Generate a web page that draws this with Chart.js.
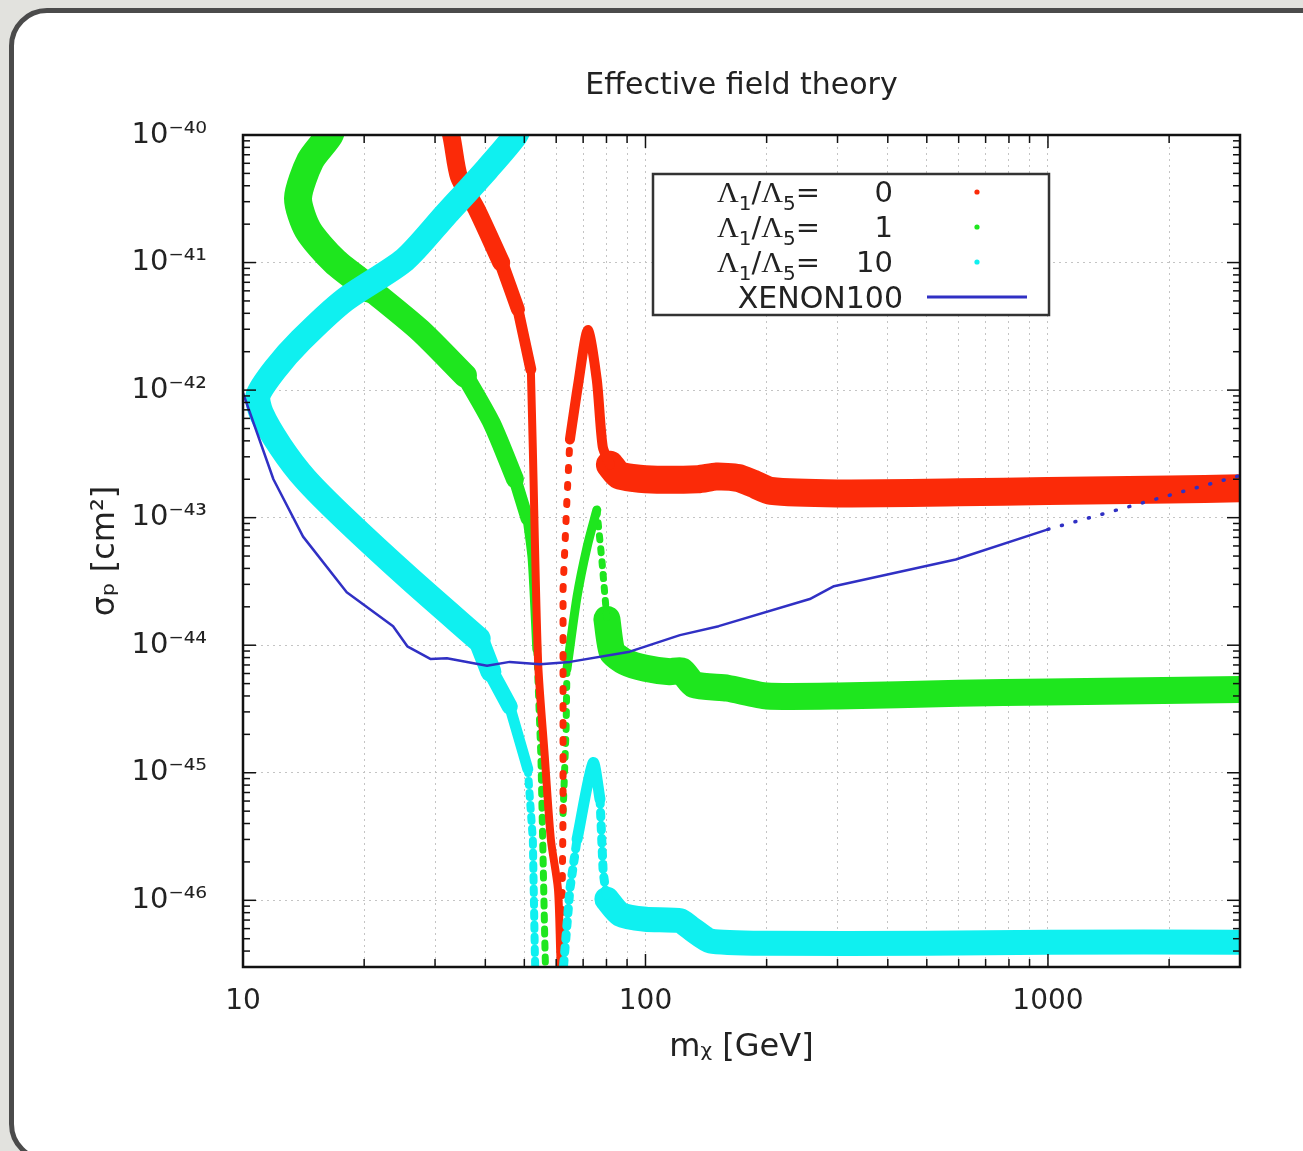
<!DOCTYPE html>
<html><head><meta charset="utf-8">
<script src="https://cdn.jsdelivr.net/npm/chart.js@4.4.1/dist/chart.umd.min.js"></script>
<style>
html,body{margin:0;padding:0;width:1303px;height:1151px;overflow:hidden;background:#e2e2de;}
#bg{position:absolute;left:0;top:0;width:1303px;height:1151px;overflow:hidden;}
#card{position:absolute;left:9px;top:8px;width:1330px;height:1154px;box-sizing:border-box;border:5px solid #4b4b4b;border-radius:38px;background:#fff;}
#wrap{position:absolute;left:0;top:0;width:1303px;height:1151px;}
</style></head><body>
<div id="bg"><div id="card"></div></div>
<div id="wrap"><canvas id="c" width="1303" height="1151"></canvas></div>
<script>
// ---------- axis ticks ----------
const xTickValues = [10,20,30,40,50,60,70,80,90,100,200,300,400,500,600,700,800,900,1000,2000,3000];
const xLabelValues = [10,100,1000];
const xLabelTexts = ['10','100','1000'];
const yTickValues = [1e-46,1e-45,1e-44,1e-43,1e-42,1e-41,1e-40];
const yTickTexts = ['10⁻⁴⁶','10⁻⁴⁵','10⁻⁴⁴','10⁻⁴³','10⁻⁴²','10⁻⁴¹','10⁻⁴⁰'];

// ---------- series: [m_chi (GeV), sigma_p (cm^2)] ----------
// Lambda1/Lambda5 = 0 (red)
const redUpperA = [[31.6,1.4e-40],[32.9,1.0e-40],[34.4,4.7e-41],[38.1,2.6e-41],[43.8,1.0e-41]];
const redUpperB = [[43.8,1.0e-41],[48.2,4.3e-42]];
const redUpperC = [[48.2,4.3e-42],[51.9,1.45e-42]];
const redLower  = [[51.9,1.45e-42],[52.5,3.4e-43],[54.1,7.4e-45],[56.2,1.35e-45],[58.2,3.0e-46],[60.6,1.23e-46],[61.4,3.9e-47],[61.6,3.0e-47]];
const redRise   = [[61.8,3.2e-47],[62.4,4.8e-46],[62.4,2.75e-44],[63.8,1.38e-43],[64.9,4.1e-43]];
const redPeak   = [[64.9,4.1e-43],[68.0,1.1e-42],[71.9,2.95e-42],[75.7,1.2e-42],[78.3,3.6e-43],[81.6,2.6e-43]];
const redTail   = [[81.6,2.6e-43],[86,2.15e-43],[100,2.0e-43],[135,2.0e-43],[150,2.1e-43],[170,2.05e-43],[185,1.85e-43],[205,1.62e-43],[300,1.55e-43],[600,1.58e-43],[1000,1.62e-43],[2000,1.66e-43],[3000,1.7e-43]];
// Lambda1/Lambda5 = 1 (green)
const greenTopA = [[16.9,1.35e-40],[16.4,1.0e-40],[14.7,6.3e-41],[13.7,3.2e-41],[14.5,1.8e-41],[16.9,1.02e-41],[20.7,6.2e-42]];
const greenTopB = [[20.7,6.2e-42],[27.5,2.95e-42],[35.6,1.3e-42]];
const greenMid  = [[35.6,1.3e-42],[41.5,5.5e-43],[47.4,2.0e-43]];
const greenLowA = [[47.4,2.0e-43],[50.8,9.8e-44]];
const greenLowB = [[50.8,9.8e-44],[52.3,4.7e-44],[53.7,9.3e-45]];
const greenDrop = [[53.7,9.3e-45],[55.0,1.3e-45],[56.2,5.0e-47],[56.4,3.2e-47]];
const greenRise = [[62.4,4.8e-46],[63.5,2.2e-45],[63.8,6.5e-45]];
const greenPeak = [[63.8,6.5e-45],[67.6,2.4e-44],[71.6,5.9e-44],[75.7,1.15e-43]];
const greenFall = [[75.7,1.15e-43],[77.9,4.7e-44],[80.2,1.6e-44]];
const greenTail = [[80.2,1.6e-44],[82.6,8.9e-45],[89,7.4e-45],[100,6.6e-45],[115,6.2e-45],[123,6.3e-45],[132,4.9e-45],[160,4.6e-45],[200,4.0e-45],[300,4.0e-45],[600,4.2e-45],[1000,4.3e-45],[3000,4.5e-45]];
// Lambda1/Lambda5 = 10 (cyan)
const cyanTop     = [[49.6,1.35e-40],[47.6,1.0e-40],[40.4,5.4e-41],[31.8,2.35e-41],[25.2,1.05e-41],[17.9,5.1e-42],[13.9,2.45e-42],[12.0,1.45e-42],[10.9,9.1e-43],[11.1,6.6e-43],[12.4,3.6e-43],[14.3,2.0e-43],[17.9,9.8e-44],[26.0,3.3e-44],[38.4,1.12e-44]];
const cyanNarrowA = [[38.4,1.12e-44],[41.3,6.2e-45]];
const cyanNarrowB = [[41.3,6.2e-45],[46.0,3.3e-45]];
const cyanNarrowC = [[46.0,3.3e-45],[51.0,1.07e-45]];
const cyanDrop    = [[51.0,1.07e-45],[52.5,3.0e-46],[53.1,3.9e-47],[53.2,3.1e-47]];
const cyanRise    = [[62.6,3.1e-47],[63.1,4.2e-47],[64.9,1.23e-46],[67.6,3.0e-46]];
const cyanPeak    = [[67.6,3.0e-46],[74.1,1.2e-45],[77.1,6.2e-46]];
const cyanFall    = [[77.1,6.2e-46],[78.5,1.66e-46],[80.2,1.02e-46]];
const cyanTail    = [[80.2,1.02e-46],[86.4,7.8e-47],[100,7.1e-47],[122,6.9e-47],[130,6.0e-47],[145,4.8e-47],[200,4.6e-47],[500,4.6e-47],[1000,4.7e-47],[3000,4.7e-47]];
// XENON100 limit (blue)
const xenonSolid  = [[10,9.5e-43],[11.9,2.0e-43],[14.1,7.1e-44],[18.1,2.6e-44],[23.6,1.41e-44],[25.6,9.8e-45],[29.2,7.8e-45],[32.1,7.9e-45],[40.4,6.9e-45],[46.0,7.4e-45],[54.7,7.1e-45],[64.9,7.4e-45],[91.4,8.9e-45],[121.8,1.2e-44],[152,1.41e-44],[256,2.3e-44],[294,2.9e-44],[590,4.7e-44],[1000,8.1e-44]];
const xenonDotted = [[1000,8.1e-44],[3000,2.14e-43]];

const legendValues = ['0','1','10'];
const seriesNames = ['Λ1/Λ5= 0','Λ1/Λ5= 1','Λ1/Λ5= 10','XENON100'];

// ---------- styles ----------
const RED = '#fb2a08', GREEN = '#1ee61e', CYAN = '#0ff0f0', BLUE = '#3030c4';
const pts = a => a.map(([x, y]) => ({x, y}));
function seg(label, data, color, width, order, opts = {}) {
  return Object.assign({
    label, data: pts(data), showLine: true, borderColor: color, backgroundColor: color,
    borderWidth: width, pointRadius: 0, pointHoverRadius: 0, fill: false, clip: 0,
    borderCapStyle: 'round', borderJoinStyle: 'round', tension: 0.25, order
  }, opts);
}
const dashed = d => ({borderDash: d, borderCapStyle: 'round', tension: 0});

const datasets = [
  seg(seriesNames[3], xenonSolid, BLUE, 2.5, 1, {tension: 0, borderCapStyle: 'butt'}),
  seg(seriesNames[3], xenonDotted, BLUE, 3.5, 1, dashed([1, 13])),
  seg(seriesNames[2], cyanTop, CYAN, 25, 2),
  seg(seriesNames[2], cyanNarrowA, CYAN, 21, 2),
  seg(seriesNames[2], cyanNarrowB, CYAN, 16, 2),
  seg(seriesNames[2], cyanNarrowC, CYAN, 11, 2),
  seg(seriesNames[2], cyanDrop, CYAN, 8, 2, dashed([4, 8])),
  seg(seriesNames[2], cyanRise, CYAN, 9, 2, dashed([5, 8])),
  seg(seriesNames[2], cyanPeak, CYAN, 11, 2),
  seg(seriesNames[2], cyanFall, CYAN, 9, 2, dashed([5, 8])),
  seg(seriesNames[2], cyanTail, CYAN, 25, 2, {tension: 0.2}),
  seg(seriesNames[0], redUpperA, RED, 18, 3),
  seg(seriesNames[0], redUpperB, RED, 14, 3),
  seg(seriesNames[0], redUpperC, RED, 11, 3),
  seg(seriesNames[0], redLower, RED, 8, 3),
  seg(seriesNames[0], redRise, RED, 7, 3, dashed([3, 14])),
  seg(seriesNames[0], redPeak, RED, 10, 3),
  seg(seriesNames[0], redTail, RED, 28, 3, {tension: 0.2}),
  seg(seriesNames[1], greenTopA, GREEN, 28, 4),
  seg(seriesNames[1], greenTopB, GREEN, 24, 4),
  seg(seriesNames[1], greenMid, GREEN, 18, 4),
  seg(seriesNames[1], greenLowA, GREEN, 13, 4),
  seg(seriesNames[1], greenLowB, GREEN, 9, 4),
  seg(seriesNames[1], greenDrop, GREEN, 7, 4, dashed([5, 9])),
  seg(seriesNames[1], greenRise, GREEN, 7, 4, dashed([4, 10])),
  seg(seriesNames[1], greenPeak, GREEN, 9, 4),
  seg(seriesNames[1], greenFall, GREEN, 7, 4, dashed([4, 9])),
  seg(seriesNames[1], greenTail, GREEN, 27, 4, {tension: 0.2})
];

const FONT = 'DejaVu Sans';
const TXT = '#222';

const framePlugin = {
  id: 'frameAndLegend',
  afterDatasetsDraw(chart) {
    const {ctx, chartArea: a, scales: {x, y}} = chart;
    ctx.save();
    ctx.strokeStyle = '#111';
    ctx.lineWidth = 1.5;
    const line = (x1, y1, x2, y2) => { ctx.beginPath(); ctx.moveTo(x1, y1); ctx.lineTo(x2, y2); ctx.stroke(); };
    // y ticks (inward, mirrored)
    for (let e = -47; e <= -40; e++) {
      for (let k = 1; k <= 9; k++) {
        const v = k * Math.pow(10, e);
        if (v < y.min * 0.999 || v > y.max * 1.001) continue;
        const py = y.getPixelForValue(v);
        const len = k === 1 ? 13 : 7;
        line(a.left, py, a.left + len, py);
        line(a.right, py, a.right - len, py);
      }
    }
    // x ticks
    for (const v of xTickValues) {
      const px = x.getPixelForValue(v);
      const len = xLabelValues.includes(v) ? 13 : 8;
      line(px, a.bottom, px, a.bottom - len);
      line(px, a.top, px, a.top + len);
    }
    // frame
    ctx.lineWidth = 2.5;
    ctx.strokeRect(a.left, a.top, a.right - a.left, a.bottom - a.top);

    // legend box
    const bx = a.left + 410, by = a.top + 39, bw = 396, bh = 141;
    ctx.fillStyle = '#fff';
    ctx.fillRect(bx, by, bw, bh);
    ctx.lineWidth = 2.5;
    ctx.strokeStyle = '#333';
    ctx.strokeRect(bx, by, bw, bh);
    ctx.fillStyle = TXT;
    ctx.textBaseline = 'alphabetic';
    const colors = [RED, GREEN, CYAN];
    for (let i = 0; i < 3; i++) {
      const base = by + 28 + i * 35;
      let cx = bx + 64;
      const runs = [
        {t: 'Λ', f: '30px "Liberation Serif"'},
        {t: '1', f: '20px "DejaVu Sans"', dy: 8},
        {t: '/', f: '29px "DejaVu Sans"'},
        {t: 'Λ', f: '30px "Liberation Serif"'},
        {t: '5', f: '20px "DejaVu Sans"', dy: 8},
        {t: '=', f: '29px "DejaVu Sans"'}
      ];
      ctx.textAlign = 'left';
      for (const r of runs) {
        ctx.font = r.f;
        ctx.fillText(r.t, cx, base + (r.dy || 0));
        cx += ctx.measureText(r.t).width;
      }
      ctx.font = '29px "DejaVu Sans"';
      ctx.textAlign = 'right';
      ctx.fillText(legendValues[i], bx + 240, base);
      ctx.fillStyle = colors[i];
      ctx.beginPath();
      ctx.arc(bx + 324, by + 18 + i * 35, 2.6, 0, Math.PI * 2);
      ctx.fill();
      ctx.fillStyle = TXT;
    }
    ctx.font = '30px "DejaVu Sans"';
    ctx.textAlign = 'right';
    ctx.fillText(seriesNames[3], bx + 250, by + 134);
    ctx.strokeStyle = BLUE;
    ctx.lineWidth = 3;
    line(bx + 274, by + 123, bx + 374, by + 123);
    ctx.restore();
  }
};

const labelFor = (vals, texts) => v => {
  const i = vals.findIndex(t => Math.abs(t / v - 1) < 1e-6);
  return i >= 0 ? texts[i] : '';
};

new Chart(document.getElementById('c'), {
  type: 'scatter',
  data: {datasets},
  options: {
    responsive: false,
    animation: false,
    events: [],
    layout: {padding: {left: 60, right: 63, top: 0, bottom: 64}},
    plugins: {
      legend: {display: false},
      tooltip: {enabled: false},
      title: {
        display: true, text: 'Effective field theory', fullSize: false, color: TXT,
        font: {family: FONT, size: 30, weight: 'normal'},
        padding: {top: 68, bottom: 31}
      }
    },
    scales: {
      x: {
        type: 'logarithmic', min: 10, max: 3000,
        afterBuildTicks: s => { s.ticks = xTickValues.map(v => ({value: v})); },
        afterFit: s => { s.height = 120; },
        ticks: {callback: labelFor(xLabelValues, xLabelTexts), autoSkip: false, maxRotation: 0, minRotation: 0,
                padding: 18, color: TXT, font: {family: FONT, size: 28}},
        grid: {color: '#c4c4c4', lineWidth: 1, drawTicks: false},
        border: {display: false, dash: [2, 4]},
        title: {display: true, text: 'mᵪ [GeV]', color: TXT, font: {family: FONT, size: 32}, padding: {top: 0, bottom: 20}}
      },
      y: {
        type: 'logarithmic', min: 3.04e-47, max: 1e-40,
        afterBuildTicks: s => { s.ticks = yTickValues.map(v => ({value: v})); },
        afterFit: s => { s.width = 183; },
        ticks: {callback: labelFor(yTickValues, yTickTexts), autoSkip: false, padding: 36, color: TXT,
                font: {family: FONT, size: 29}},
        grid: {color: '#c4c4c4', lineWidth: 1, drawTicks: false},
        border: {display: false, dash: [2, 4]},
        title: {display: true, text: 'σₚ [cm²]', color: TXT, font: {family: FONT, size: 32}, padding: {top: 26, bottom: 0}}
      }
    }
  },
  plugins: [framePlugin]
});
</script>
</body></html>
